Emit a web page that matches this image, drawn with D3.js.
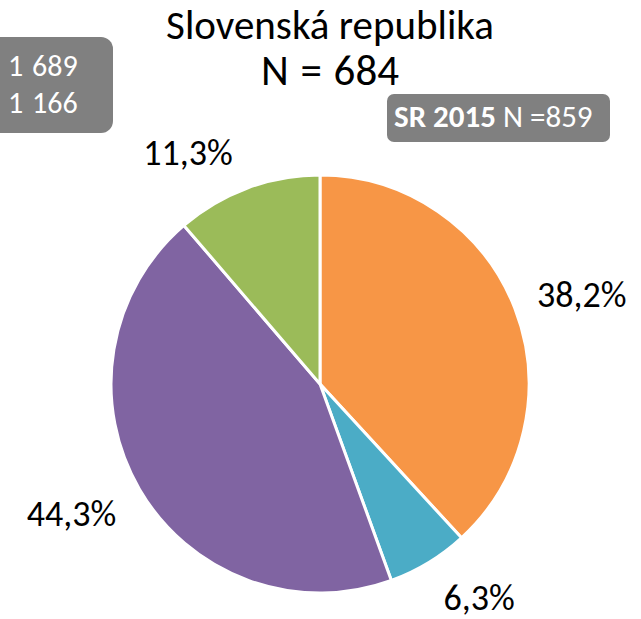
<!DOCTYPE html>
<html>
<head>
<meta charset="utf-8">
<script src="https://cdn.jsdelivr.net/npm/d3@7"></script>
<style>
  body { margin: 0; background: #fff; }
  svg text { font-family: Carlito, Calibri, "Open Sans", sans-serif; }
</style>
</head>
<body>
<div id="chart"></div>
<script>
    const width = 641,
        height = 619;

    // slice data, clockwise from 12 o'clock
    const categories = ["a", "b", "c", "d"];
    const values = [38.2, 6.3, 44.3, 11.3];
    const labels = ["38,2%", "6,3%", "44,3%", "11,3%"];
    const colors = ["#F79646", "#4BACC6", "#8064A2", "#9BBB59"];

    const titleLines = ["Slovenská republika", "N = 684"];
    const leftBoxLines = ["1 689", "1 166"];
    const srBold = "SR 2015";
    const srRest = " N =859";

    const cx = 320, cy = 384, radius = 209;

    const svg = d3.select("#chart")
        .append("svg")
        .attr("width", width)
        .attr("height", height);

    // title
    svg.selectAll("text.title")
        .data(titleLines)
        .join("text")
        .attr("class", "title")
        .attr("x", 330)
        .attr("y", (d, i) => 39 + i * 46)
        .attr("text-anchor", "middle")
        .style("font-size", (d, i) => i ? "43px" : "41px")
        .style("word-spacing", (d, i) => i ? "2px" : "0px")
        .style("fill", "#000")
        .text(d => d);

    // left grey box (cut off at the edge)
    svg.append("rect")
        .attr("x", -20)
        .attr("y", 37)
        .attr("width", 133)
        .attr("height", 96)
        .attr("rx", 12)
        .attr("fill", "#808080");

    svg.selectAll("text.left")
        .data(leftBoxLines)
        .join("text")
        .attr("class", "left")
        .attr("x", 8)
        .attr("y", (d, i) => 76 + i * 37)
        .style("font-size", "30px")
        .style("word-spacing", "2px")
        .style("fill", "#fff")
        .text(d => d);

    // SR 2015 box
    svg.append("rect")
        .attr("x", 387)
        .attr("y", 94)
        .attr("width", 223)
        .attr("height", 48)
        .attr("rx", 7)
        .attr("fill", "#808080");

    const sr = svg.append("text")
        .attr("x", 394)
        .attr("y", 127)
        .style("font-size", "31px")
        .style("fill", "#fff");
    sr.append("tspan").style("font-weight", "bold").text(srBold);
    sr.append("tspan").text(srRest);

    // pie
    const pie = d3.pie()
        .value(d => d.value)
        .sort(null);

    const data_ready = pie(categories.map((c, i) => ({ key: c, value: values[i], label: labels[i], color: colors[i] })));

    const arc = d3.arc()
        .innerRadius(0)
        .outerRadius(radius);

    const g = svg.append("g")
        .attr("transform", `translate(${cx}, ${cy})`);

    g.selectAll("path")
        .data(data_ready)
        .join("path")
        .attr("d", arc)
        .attr("fill", d => d.data.color)
        .attr("stroke", "white")
        .style("stroke-width", "3px");

    // labels outside the pie
    const labelArc = d3.arc()
        .innerRadius(268)
        .outerRadius(268);

    const offsets = [[12, 20], [20, -3], [-17, 7], [-39, 32]];

    g.selectAll("text.lbl")
        .data(data_ready)
        .join("text")
        .attr("class", "lbl")
        .attr("transform", (d, i) => {
            const p = labelArc.centroid(d);
            return `translate(${p[0] + offsets[i][0]}, ${p[1] + offsets[i][1]})`;
        })
        .attr("text-anchor", "middle")
        .style("font-size", "36px")
        .style("fill", "#000")
        .text(d => d.data.label);
</script>
</body>
</html>
